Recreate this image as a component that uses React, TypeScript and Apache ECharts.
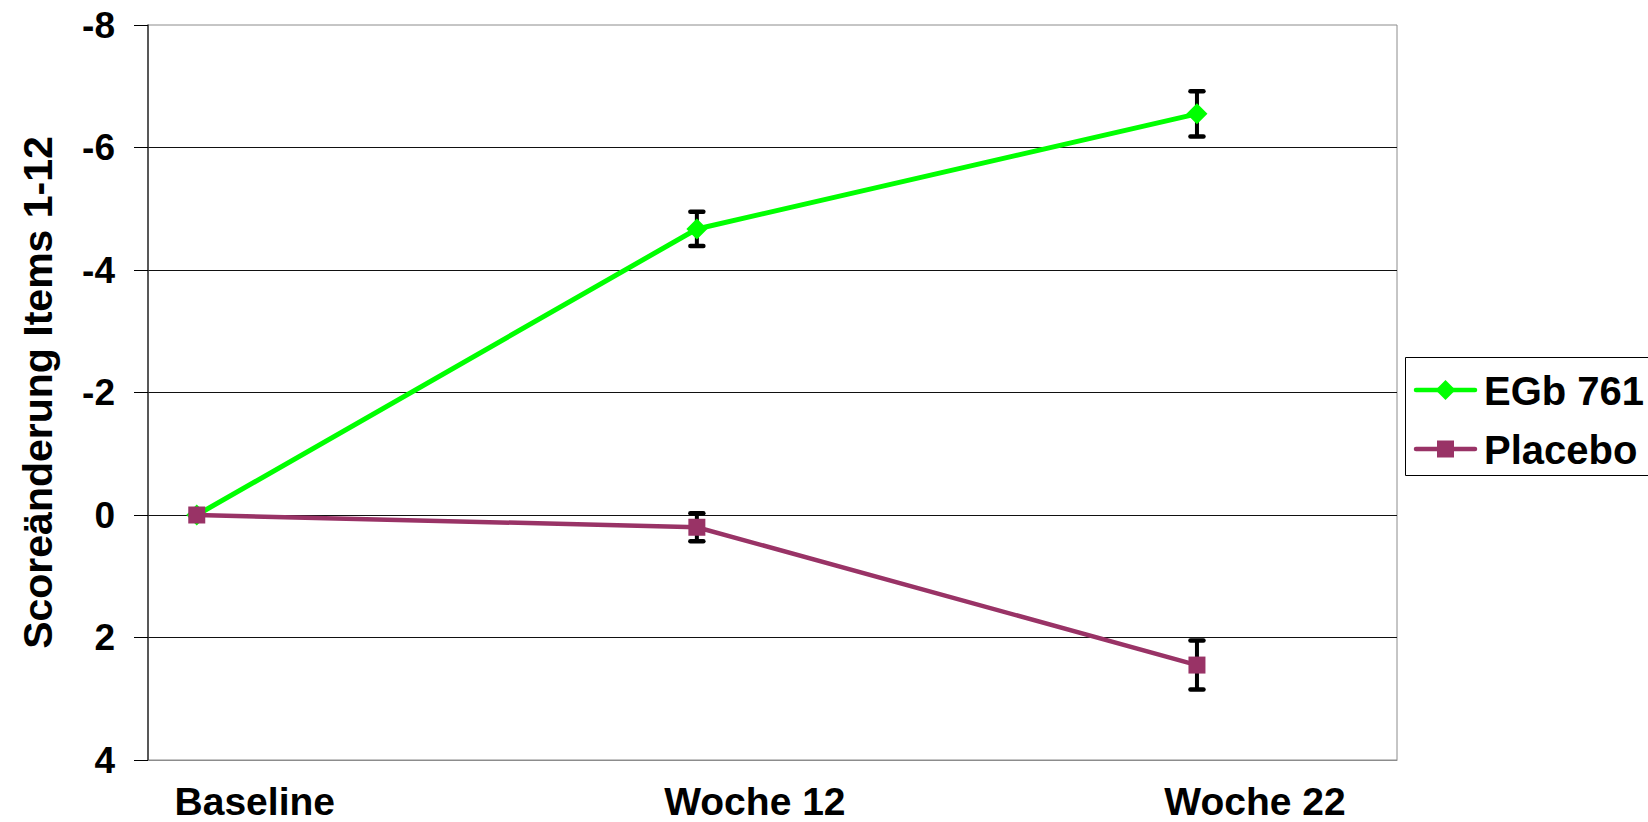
import React, { useEffect, useRef } from "react";
import * as echarts from "echarts";

const categories = ["Baseline", "Woche 12", "Woche 22"];
const seriesNames = ["EGb 761", "Placebo"];
const seriesColors = ["#00ff00", "#993366"];
const egbMean = [0, -4.67, -6.55];
const egbErr = [0, 0.28, 0.37];
const placeboMean = [0, 0.2, 2.45];
const placeboErr = [0, 0.23, 0.4];
const yTicks = { min: -8, max: 4, interval: 2 };

const FONT = "'Liberation Sans', Arial, sans-serif";

function errorBarSeries(name: string, mean: number[], err: number[]) {
  return {
    type: "custom",
    name: name + " err",
    z: 1,
    silent: true,
    data: mean.map((m, i) => [i, m, err[i]]),
    renderItem: (params: any, api: any) => {
      const x = api.value(0);
      const m = api.value(1);
      const e = api.value(2);
      if (!e) return null;
      const a = api.coord([x, m - e]);
      const b = api.coord([x, m + e]);
      const cx = a[0];
      const hw = 6.5;
      const st = { stroke: "#000", lineWidth: 4.5, lineCap: "round" };
      return {
        type: "group",
        children: [
          { type: "line", shape: { x1: cx, y1: a[1], x2: cx, y2: b[1] }, style: { stroke: "#000", lineWidth: 4 } },
          { type: "line", shape: { x1: cx - hw, y1: a[1], x2: cx + hw, y2: a[1] }, style: st },
          { type: "line", shape: { x1: cx - hw, y1: b[1], x2: cx + hw, y2: b[1] }, style: st },
        ],
      };
    },
  };
}

function legendGraphic() {
  const boxLeft = 1405;
  const boxTop = 357;
  const rows = [390, 449];
  const lineX1 = 1416;
  const lineX2 = 1475;
  const mid = (lineX1 + lineX2) / 2;
  const children: any[] = [
    {
      type: "rect",
      shape: { x: boxLeft + 0.5, y: boxTop + 0.5, width: 300, height: 118 },
      style: { fill: "#fff", stroke: "#000", lineWidth: 1 },
    },
  ];
  rows.forEach((cy, i) => {
    const color = seriesColors[i];
    children.push({
      type: "line",
      shape: { x1: lineX1, y1: cy, x2: lineX2, y2: cy },
      style: { stroke: color, lineWidth: 4.5, lineCap: "round" },
    });
    if (i === 0) {
      children.push({
        type: "polygon",
        shape: { points: [[mid, cy - 10], [mid + 10, cy], [mid, cy + 10], [mid - 10, cy]] },
        style: { fill: color },
      });
    } else {
      children.push({
        type: "rect",
        shape: { x: mid - 8.5, y: cy - 8.5, width: 17, height: 17 },
        style: { fill: color },
      });
    }
    children.push({
      type: "text",
      x: 1484,
      y: cy + 1,
      style: {
        text: seriesNames[i],
        fontFamily: FONT,
        fontSize: 40,
        fontWeight: "bold",
        fill: "#000",
        textAlign: "left",
        textVerticalAlign: "middle",
      },
    });
  });
  return [{ type: "group", z: 100, children }];
}

export default function App() {
  const ref = useRef<HTMLDivElement>(null);
  useEffect(() => {
    if (!ref.current) return;
    const chart = echarts.init(ref.current, undefined, { renderer: "svg" });
    chart.setOption({
      animation: false,
      backgroundColor: "#fff",
      textStyle: { fontFamily: FONT },
      grid: {
        left: 148,
        right: 251,
        top: 25,
        bottom: 62,
        show: true,
        borderColor: "#8c8c8c",
        borderWidth: 1,
      },
      graphic: legendGraphic(),
      xAxis: {
        type: "value",
        min: -0.0975,
        max: 2.4,
        axisLine: { show: true, onZero: false, lineStyle: { color: "#8c8c8c", width: 1 } },
        axisTick: { show: false },
        splitLine: { show: false },
        axisLabel: {
          customValues: [0, 1, 2],
          margin: 22,
          formatter: (v: number) => "{a|" + categories[Math.round(v)] + "}",
          rich: {
            a: {
              fontFamily: FONT,
              fontSize: 39,
              fontWeight: "bold",
              color: "#000",
              padding: [0, 0, 0, 116],
            },
          },
        },
      },
      yAxis: {
        type: "value",
        inverse: true,
        min: yTicks.min,
        max: yTicks.max,
        interval: yTicks.interval,
        name: "Scoreänderung Items 1-12",
        nameLocation: "middle",
        nameGap: 90,
        nameTextStyle: { fontFamily: FONT, fontSize: 41, fontWeight: "bold", color: "#000" },
        axisLine: { show: true, onZero: false, lineStyle: { color: "#333", width: 1.5 } },
        axisTick: { show: true, inside: false, length: 14, lineStyle: { color: "#000", width: 1 } },
        axisLabel: { fontFamily: FONT, fontSize: 37, fontWeight: "bold", color: "#000", margin: 33 },
        splitLine: { show: true, showMinLine: false, showMaxLine: false, lineStyle: { color: "#111", width: 1 } },
      },
      series: [
        errorBarSeries(seriesNames[0], egbMean, egbErr),
        errorBarSeries(seriesNames[1], placeboMean, placeboErr),
        {
          type: "line",
          name: seriesNames[0],
          z: 3,
          data: egbMean.map((v, i) => [i, v]),
          symbol: "diamond",
          symbolSize: 21,
          lineStyle: { color: seriesColors[0], width: 5, cap: "round" },
          itemStyle: { color: seriesColors[0] },
        },
        {
          type: "line",
          name: seriesNames[1],
          z: 4,
          data: placeboMean.map((v, i) => [i, v]),
          symbol: "rect",
          symbolSize: 17,
          lineStyle: { color: seriesColors[1], width: 4.5, cap: "round" },
          itemStyle: { color: seriesColors[1] },
        },
      ],
    });
    return () => chart.dispose();
  }, []);
  return (
    <div
      ref={ref}
      style={{ position: "fixed", left: 0, top: 0, width: 1648, height: 822, background: "#fff" }}
    />
  );
}
